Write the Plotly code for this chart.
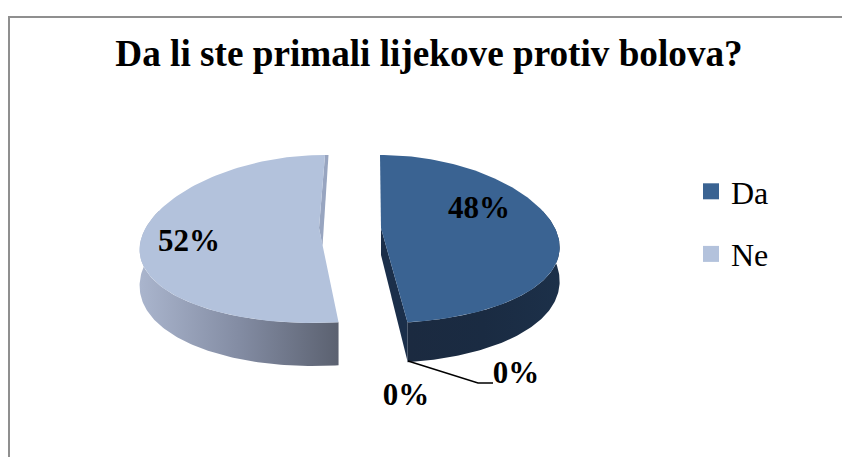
import math
import plotly.graph_objects as go

# ---- data ----
categories = ["Da", "Ne"]
values = [48, 52]
zero_values = [0, 0]
title_text = "Da li ste primali lijekove protiv bolova?"

# ---- styling ----
top_colors = ["#3a6392", "#b3c2dc"]
FONT = "Liberation Serif"
TILT_K = 0.131
RX, RY = 177.0, 82.6
BULGE = 8.0


def point(cx, cy, frac, skew):
    """Project a pie fraction (clockwise from 12 o'clock) on the tilted disc."""
    t = 2 * math.pi * frac
    u, v = math.sin(t), math.cos(t)
    d = 1 + TILT_K * v
    return cx + RX * u / d + skew * v, cy - RY * v / d + BULGE * u * u


def arc(cx, cy, f0, f1, skew, n=120):
    pts = [point(cx, cy, f0 + (f1 - f0) * i / n, skew) for i in range(n + 1)]
    return [p[0] for p in pts], [p[1] for p in pts]


def wall(cx, cy, f0, f1, skew, d0, d1):
    xs, ys = arc(cx, cy, f0, f1, skew)
    vs = [math.cos(2 * math.pi * (f0 + (f1 - f0) * i / (len(xs) - 1))) for i in range(len(xs))]
    low = [y + d0 - d1 * v for y, v in zip(ys, vs)]
    return xs + xs[::-1], ys + low[::-1]


total = sum(values)
split = values[0] / total
fig = go.Figure()
noleg = dict(mode="lines", line=dict(width=0), fill="toself", hoverinfo="skip", showlegend=False)

# --- right slice (Da) ---
rc = (381, 228)
rskew = -1
x, y = wall(*rc, 0.2, split, rskew, 33, 7)
fig.add_trace(go.Scatter(x=x, y=y, fillgradient=dict(type="horizontal",
              colorscale=[[0, "#1b2a40"], [0.5, "#1a2b42"], [1, "#1c3049"]]), **noleg))
ex, ey = point(*rc, split, rskew)
fig.add_trace(go.Scatter(x=[rc[0], ex, ex, rc[0]], y=[rc[1], ey, ey + 39, rc[1] + 27],
                         fillcolor="#1b2f4a", **noleg))
x, y = arc(*rc, 0, split, rskew)
fig.add_trace(go.Scatter(x=[rc[0]] + x + [rc[0]], y=[rc[1]] + y + [rc[1]],
                         fillcolor=top_colors[0], **noleg))

# --- left slice (Ne) ---
lc = (319, 228)
lskew = 6
x, y = wall(*lc, split, 0.8, lskew, 35, 8)
fig.add_trace(go.Scatter(x=x, y=y, fillgradient=dict(type="horizontal",
              colorscale=[[0, "#aab5cd"], [0.5, "#838ca3"], [1, "#5b6170"]]), **noleg))
px, py = point(*lc, 1.0, lskew)
fig.add_trace(go.Scatter(x=[lc[0], px, px + 3.5, lc[0] + 3.5], y=[lc[1], py, py, lc[1] + 18],
                         fillcolor="#98a5c0", **noleg))
x, y = arc(*lc, split, 1.0, lskew)
fig.add_trace(go.Scatter(x=[lc[0]] + x + [lc[0]], y=[lc[1]] + y + [lc[1]],
                         fillcolor=top_colors[1], **noleg))

# --- leader line for the first zero label ---
fig.add_trace(go.Scatter(x=[408, 478, 493], y=[361, 383, 383], mode="lines",
                         line=dict(color="#000000", width=1.5), hoverinfo="skip", showlegend=False))

# --- data labels ---
fig.add_trace(go.Scatter(
    x=[479, 189, 516, 406], y=[210, 243, 375, 397], mode="text",
    text=[f"{v}%" for v in values + zero_values], textposition="middle center",
    textfont=dict(family=FONT, size=31, color="#000000"),
    texttemplate="<b>%{text}</b>", hoverinfo="skip", showlegend=False))

# --- legend entries ---
for name, col in zip(categories, top_colors):
    fig.add_trace(go.Scatter(x=[None], y=[None], mode="markers", name=name, legendgroup=name,
                             marker=dict(symbol="square", size=16, color=col)))

fig.update_layout(
    width=842, height=457, margin=dict(l=0, r=0, t=0, b=0),
    paper_bgcolor="#ffffff", plot_bgcolor="#ffffff",
    title=dict(text=f"<b>{title_text}</b>", x=429 / 842, xanchor="center", y=1 - 53 / 457,
               yanchor="middle", font=dict(family=FONT, size=37.2, color="#000000")),
    xaxis=dict(range=[0, 842], visible=False, fixedrange=True),
    yaxis=dict(range=[457, 0], visible=False, fixedrange=True),
    legend=dict(x=691 / 842, xanchor="left", y=1 - 164 / 457, yanchor="top",
                tracegroupgap=18, bgcolor="rgba(0,0,0,0)",
                font=dict(family=FONT, size=32, color="#000000")),
    shapes=[dict(type="path", path="M 9 457 L 9 17 L 842 17", xref="x", yref="y",
                 line=dict(color="#8f8f8f", width=2))],
)
fig.write_html("out.html", config=dict(displayModeBar=False),
               post_script="document.body.style.margin='0';document.body.style.overflow='hidden';")
